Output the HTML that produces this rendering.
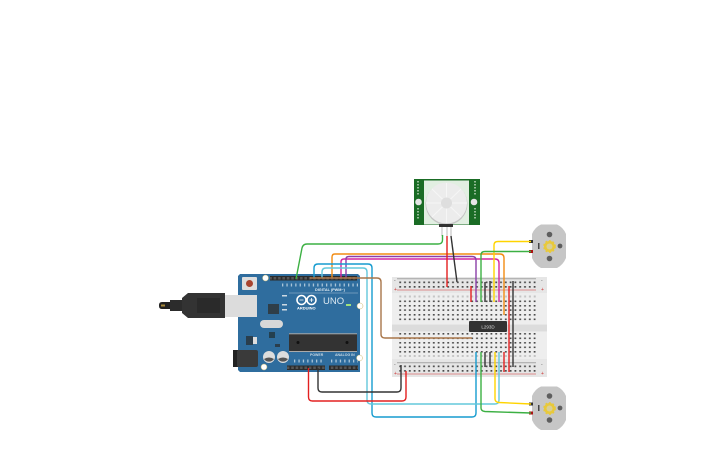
<!DOCTYPE html>
<html><head><meta charset="utf-8"><style>
html,body{margin:0;padding:0;background:#fff;width:725px;height:453px;overflow:hidden}
svg{display:block}
text{font-family:"Liberation Sans",sans-serif}
</style></head><body>
<svg width="725" height="453" viewBox="0 0 725 453" xmlns="http://www.w3.org/2000/svg">
<defs>
<pattern id="h" x="399" y="0" width="4.8" height="453" patternUnits="userSpaceOnUse"><rect x="0.300" y="0" width="1.800" height="453" fill="#4a4a4a"/></pattern>
<pattern id="f" x="399" y="0" width="4.8" height="453" patternUnits="userSpaceOnUse"><rect x="0.300" y="0" width="2" height="453" fill="#c4c4c4"/></pattern>
<pattern id="hd" x="0" y="0" width="4.4" height="453" patternUnits="userSpaceOnUse"><rect x="0.800" y="0" width="2.600" height="453" fill="#555"/></pattern>
</defs>

<!-- Breadboard -->
<rect x="392" y="277" width="155" height="100" fill="#e6e6e6"/>
<rect x="392" y="293" width="155" height="31" fill="#eeeeee"/>
<rect x="392" y="332" width="155" height="27" fill="#eeeeee"/>
<rect x="392" y="325" width="155" height="6" fill="#dcdcdc"/>
<rect x="397" y="278" width="139" height="1.300" fill="#b4b4b4"/>
<rect x="397" y="289.500" width="139" height="1" fill="#dc8c8c"/>
<rect x="397" y="362" width="139" height="1.300" fill="#b4b4b4"/>
<rect x="397" y="373.500" width="139" height="1" fill="#dc8c8c"/>
<g fill="url(#h)">
<rect x="399" y="281.500" width="139" height="1.700"/><rect x="399" y="286" width="139" height="1.700"/>
<rect x="399" y="300.500" width="139" height="1.600"/><rect x="399" y="305" width="139" height="1.600"/><rect x="399" y="309.300" width="139" height="1.600"/><rect x="399" y="314" width="139" height="1.600"/><rect x="399" y="318.500" width="139" height="1.600"/>
<rect x="399" y="333" width="139" height="1.600"/><rect x="399" y="337.500" width="139" height="1.600"/><rect x="399" y="342" width="139" height="1.600"/><rect x="399" y="346.500" width="139" height="1.600"/><rect x="399" y="351" width="139" height="1.600"/>
<rect x="399" y="365.500" width="139" height="1.700"/><rect x="399" y="370" width="139" height="1.700"/>
</g>
<rect x="399" y="295.500" width="139" height="2" fill="url(#f)"/>
<rect x="399" y="355" width="139" height="2" fill="url(#f)"/>
<g font-size="5" fill="#555"><text x="394" y="282">-</text><text x="394" y="291" fill="#c33">+</text><text x="541" y="282">-</text><text x="541" y="291" fill="#c33">+</text><text x="394" y="366">-</text><text x="394" y="375" fill="#c33">+</text><text x="541" y="366">-</text><text x="541" y="375" fill="#c33">+</text></g>

<!-- IC L293D -->
<rect x="469" y="321" width="38" height="11" rx="1" fill="#333"/>
<text x="488" y="328.500" font-size="4.500" fill="#ddd" text-anchor="middle">L293D</text>

<!-- Arduino -->
<path d="M240 274H358l2 2V372H240l-2-2V276z" fill="#2f6d9e"/>
<rect x="270" y="276" width="87" height="4.500" fill="#2b2b2b"/>
<rect x="270" y="277" width="87" height="2.500" fill="url(#hd)"/>
<rect x="287" y="365.500" width="38" height="4.500" fill="#2b2b2b"/>
<rect x="329" y="365.500" width="29" height="4.500" fill="#2b2b2b"/>
<rect x="287" y="366.500" width="38" height="2.500" fill="url(#hd)"/>
<rect x="329" y="366.500" width="29" height="2.500" fill="url(#hd)"/>
<circle cx="265.500" cy="278" r="3" fill="#fff" stroke="#c9b96b" stroke-width=".5"/>
<circle cx="360" cy="306" r="3" fill="#fff" stroke="#c9b96b" stroke-width=".5"/>
<circle cx="359.500" cy="358" r="3" fill="#fff" stroke="#c9b96b" stroke-width=".5"/>
<circle cx="264" cy="367" r="3" fill="#fff" stroke="#c9b96b" stroke-width=".5"/>
<rect x="242" y="277" width="15" height="13" rx="1" fill="#dedede"/>
<circle cx="249.500" cy="283.500" r="3.500" fill="#a8442f"/>
<rect x="268" y="304" width="11" height="10" fill="#2f3e48"/>
<rect x="260" y="320" width="23" height="8" rx="4" fill="#d8d8d8"/>
<rect x="269" y="332" width="6" height="6" fill="#24404f"/>
<rect x="246" y="336" width="7" height="9" fill="#2a3e4d"/><rect x="253" y="337" width="4" height="7" fill="#ddd"/>
<rect x="275" y="344" width="5" height="3" fill="#2a3e4d"/>
<rect x="289" y="334" width="68" height="17" fill="#333"/>
<circle cx="298" cy="342.500" r="1.500" fill="#111"/><circle cx="347" cy="342.500" r="1.500" fill="#111"/>
<rect x="289" y="333.300" width="68" height="1" fill="#aaa"/><rect x="289" y="351" width="68" height="1" fill="#aaa"/>
<rect x="233" y="350" width="5" height="17" fill="#222"/>
<rect x="237" y="350" width="21" height="17" rx="2" fill="#3a3a3a"/>
<circle cx="269" cy="357" r="6" fill="#ddd"/><path d="M264 359a6 6 0 0 0 10 0q-5-3-10 0z" fill="#555"/>
<circle cx="283" cy="357" r="6" fill="#ddd"/><path d="M278 359a6 6 0 0 0 10 0q-5-3-10 0z" fill="#555"/>
<g fill="none" stroke="#fff" stroke-width="1.600"><circle cx="301.500" cy="300" r="4.500"/><circle cx="311.500" cy="300" r="4.500"/></g>
<g stroke="#fff" stroke-width=".8"><path d="M299.500 300h4M309.500 300h4M311.500 298v4"/></g>
<text x="297" y="309.500" font-size="4" font-weight="bold" fill="#fff">ARDUINO</text>
<text x="323" y="304" font-size="9.500" fill="#dce8f0">UNO</text>
<text x="315" y="291" font-size="3.800" font-weight="bold" fill="#e4edf3">DIGITAL (PWM~)</text>
<text x="310" y="356" font-size="3.500" font-weight="bold" fill="#c7d8e4">POWER</text>
<text x="335" y="356" font-size="3.500" font-weight="bold" fill="#c7d8e4">ANALOG IN</text>
<g stroke="#a9c4d7" stroke-width="3" stroke-dasharray="1.300 3.100"><path d="M282 285H358"/><path d="M294 361H324"/><path d="M331 361H358"/></g>
<path d="M289 293H358" stroke="#a9c4d7" stroke-width=".5"/>
<rect x="346" y="304" width="5" height="2" fill="#9fe27b"/>
<rect x="282" y="295" width="5" height="1.500" fill="#cdd9e2"/><rect x="282" y="304" width="5" height="1.500" fill="#cdd9e2"/><rect x="282" y="309" width="5" height="1.500" fill="#cdd9e2"/>

<!-- USB -->
<rect x="225" y="295" width="32" height="22" fill="#dcdcdc"/>
<path d="M188 293H225V318H188L182 313V298z" fill="#333"/>
<rect x="197" y="298" width="23" height="15" fill="#2a2a2a"/>
<rect x="170" y="300" width="12" height="11" fill="#2c2c2c"/>
<path d="M159 305q0-3 3-3H170V309H162q-3 0-3-3z" fill="#222"/>
<rect x="161" y="304.500" width="4" height="2" fill="#a8893a"/>

<!-- PIR -->
<rect x="414" y="179" width="66" height="46" fill="#1a6c25"/>
<rect x="424" y="180.500" width="45" height="44" fill="#e2efe2"/>
<circle cx="446.500" cy="204" r="21" fill="#c4c4c4"/>
<circle cx="446.500" cy="203" r="20.500" fill="#ececec"/>
<g stroke="#f6f6f6" stroke-width="1"><path d="M446.500 183V223M426 203H467M432 189L461 217M461 189L432 217"/></g>
<circle cx="446.500" cy="203" r="5.500" fill="#dedede"/>
<circle cx="418.500" cy="202" r="3.300" fill="#e6e6e6"/>
<circle cx="474" cy="202" r="3.300" fill="#e6e6e6"/>
<g stroke="#bcd4bc" stroke-width="1.500" stroke-dasharray="1.500 1.500"><path d="M418 181V196"/><path d="M475 181V196"/><path d="M418 208V220"/><path d="M475 208V220"/></g>
<rect x="439" y="224" width="14" height="3" fill="#333"/>
<rect x="441" y="227" width="2" height="9" fill="#ddd"/><rect x="446" y="227" width="2" height="9" fill="#ddd"/><rect x="450" y="227" width="2" height="9" fill="#ddd"/>

<!-- Motors -->
<path d="M541 224.500H557Q563 227 566 234V258Q563 265 557 268H541Q535 265 532 258V234Q535 227 541 224.500z" fill="#c6c6c6"/>
<circle cx="549.500" cy="234.500" r="2.800" fill="#5e5e5e"/><circle cx="549.500" cy="258.500" r="2.800" fill="#5e5e5e"/><circle cx="560" cy="246" r="2.400" fill="#5e5e5e"/>
<circle cx="549.500" cy="246.500" r="5.500" fill="#e8c93b" stroke="#e8c93b" stroke-width="1.800" stroke-dasharray="1.800 1.800"/><circle cx="549.500" cy="246.500" r="3" fill="#d8cf99"/>
<rect x="538" y="243" width="1.500" height="6" fill="#444"/>
<rect x="529" y="240" width="4" height="3" fill="#333"/><rect x="529" y="250" width="4" height="3" fill="#a11"/>
<path d="M541 386.500H557Q563 389 566 396V420Q563 427 557 430H541Q535 427 532 420V396Q535 389 541 386.500z" fill="#c6c6c6"/>
<circle cx="549.500" cy="396" r="2.800" fill="#5e5e5e"/><circle cx="549.500" cy="420" r="2.800" fill="#5e5e5e"/><circle cx="560" cy="408" r="2.400" fill="#5e5e5e"/>
<circle cx="549.500" cy="408.500" r="5.500" fill="#e8c93b" stroke="#e8c93b" stroke-width="1.800" stroke-dasharray="1.800 1.800"/><circle cx="549.500" cy="408.500" r="3" fill="#d8cf99"/>
<rect x="538" y="405" width="1.500" height="6" fill="#444"/>
<rect x="529" y="402.500" width="4" height="3" fill="#333"/><rect x="529" y="411.500" width="4" height="3" fill="#a11"/>

<!-- Wires -->
<g fill="none" stroke-width="1.400" stroke-linejoin="round">
<path d="M296 279L302 248Q303 244 307 244H438Q442.500 244 442.500 240V235" stroke="#3cb043"/>
<path d="M332 278V257Q332 254 335 254H500Q504 254 504 258V315" stroke="#f28c13"/>
<path d="M341 278V262Q341 259 344 259H495Q499 259 499 263V302" stroke="#d3259e"/>
<path d="M346 278V259Q346 256.500 349 256.500H472Q476 256.500 476 260V302" stroke="#8b3fa8"/>
<path d="M314 278V268Q314 264 318 264H368Q372 264 372 268V413Q372 417 376 417H472Q476 417 476 413V352" stroke="#169ccf"/>
<path d="M322 278V272Q322 268 326 268H363Q367 268 367 272V400Q367 404 371 404H495Q499 404 499 400V352" stroke="#63c8dc"/>
<path d="M310 278H377Q381 278 381 282V334Q381 338 385 338H472" stroke="#a9764a"/>
<path d="M308.500 368V397Q308.500 401 312.500 401H402Q406 401 406 397V371" stroke="#e32020"/>
<path d="M318 368V388Q318 392 322 392H397Q401 392 401 388V365" stroke="#333"/>
<path d="M447 236V287" stroke="#e32020"/>
<path d="M451 236L457 282" stroke="#333"/>
<path d="M531 241.500H498Q494 241.500 494 245V302" stroke="#ffd400"/>
<path d="M531 251.500H485Q481 251.500 481 255V302" stroke="#3cb043"/>
<path d="M481 352V408Q481 411 485 411.500L531 413" stroke="#3cb043"/>
<path d="M495 352V399Q495 402 499 402.500L531 404" stroke="#ffd400"/>
<path d="M471 286V302M504 352V372M509 286V372" stroke="#e32020"/>
<path d="M485 282V302M490 281V302M485 352V367M490 352V367M513 281V367" stroke="#333"/>
</g>
</svg>
</body></html>
